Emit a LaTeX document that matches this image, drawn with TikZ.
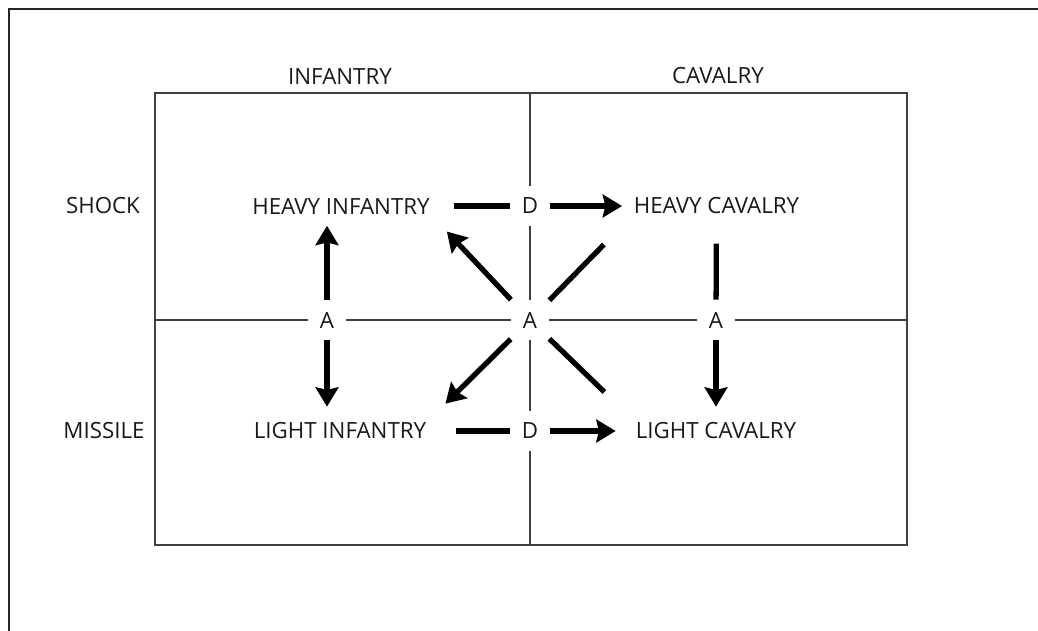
\documentclass[tikz,border=0pt]{standalone}
\usepackage{fontspec}
\setmainfont{Open Sans}
\usetikzlibrary{arrows.meta, positioning}
\tikzset{
  frame/.style={black!85, line width=1.6pt},
  gridline/.style={black!75, line width=1.1pt},
  unit/.style={font=\fontsize{12.7}{15}\selectfont, text=black!90, inner xsep=6.5pt, inner ysep=6.5pt},
  letter/.style={unit, fill=white, inner sep=6.8pt},
  bar/.style={line width=3pt},
  barrow/.style={bar, -{Stealth[width=13pt,length=11pt,inset=1.5pt]}}
}

\begin{document}
\begin{tikzpicture}[x=0.02cm, y=-0.02cm]
  \useasboundingbox (0,0) rectangle (1038,630);
  % outer frame and the two-by-two grid
  \draw[frame] (9,660) -- (9,9) -- (1060,9);
  \draw[gridline] (155,93) rectangle (907,545);
  \draw[gridline] (530,93) -- (530,545);
  \draw[gridline] (155,320) -- (907,320);
  % headings
  \node[unit] (infantry) at (340,76) {INFANTRY};
  \node[unit] (cavalry) at (718,76) {CAVALRY};
  \node[unit] (shock) at (103,206) {SHOCK};
  \node[unit] (missile) at (104,431) {MISSILE};
  % the four arms
  \node[unit] (hi) at (341,206) {HEAVY INFANTRY};
  \node[unit] (hc) at (716.5,206) {HEAVY CAVALRY};
  \node[unit] (li) at (340,431) {LIGHT INFANTRY};
  \node[unit] (lc) at (716,431) {LIGHT CAVALRY};
  % D and A marks on the grid lines
  \node[letter] (d1) at (530,206) {D};
  \node[letter] (d2) at (530,431) {D};
  \node[letter] (a1) at (327,320) {A};
  \node[letter] (a2) at (530,320) {A};
  \node[letter] (a3) at (716,320) {A};
  % connectors
  \draw[bar, shorten <=7pt] (hi) -- (d1);
  \draw[barrow] (d1) -- (hc);
  \draw[bar, shorten <=10.5pt] (li) -- (d2);
  \draw[barrow, shorten >=4.8pt] (d2) -- (lc);
  \draw[barrow] (a1) -- (a1 |- hi.south);
  \draw[barrow, shorten >=2.5pt] (a1) -- (a1 |- li.north);
  \draw[bar, shorten <=10pt] (hc) -- (a3);
  \draw[barrow, shorten >=2.5pt] (a3) -- (lc);
  \draw[barrow, shorten >=4.5pt] (a2) -- (hi.south east);
  \draw[bar, shorten >=14.8pt] (a2) -- (hc.south west);
  \draw[barrow, shorten >=6pt] (a2) -- (li.north east);
  \draw[bar, shorten >=15.6pt] (a2) -- (lc.north west);
\end{tikzpicture}
\end{document}
